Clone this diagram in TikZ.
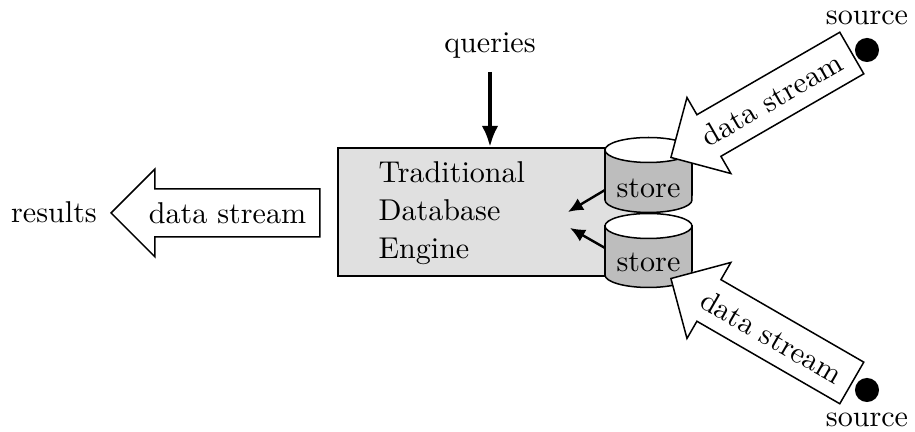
\documentclass[tikz,border=0pt]{standalone}
\usetikzlibrary{shapes.arrows,arrows.meta}
\begin{document}
\begin{tikzpicture}[x=0.3322pt,y=-0.3322pt,
  flow/.style={single arrow, draw, fill=white, line width=0.5pt,
    inner xsep=4.3pt, inner ysep=4.2pt, single arrow head extend=6.6pt,
    shape border rotate=180},
  engine/.style={draw, fill=black!12, line width=0.8pt},
  cylbody/.style={draw, fill=black!26, line width=0.5pt},
  cylend/.style={draw, fill=white, line width=0.5pt},
  feed/.style={-{Latex[length=5pt,width=4.5pt]}, line width=0.8pt},
  query/.style={-{Latex[length=7pt,width=5.5pt]}, line width=1.3pt},
  dot/.style={circle, fill=black, inner sep=0pt, minimum size=8pt},
  lbl/.style={inner sep=0pt, anchor=base}]
\useasboundingbox (0,0) rectangle (915,432);

% database engine box
\draw[engine] (338,148) rectangle (640,276);
\node[inner sep=0pt, anchor=north west, align=left,
  execute at begin node=\setlength{\baselineskip}{12.6pt}]
  (engine) at (378,161) {Traditional\\Database\\Engine};

% two stores, stacked
\path[cylbody] (605,150) -- (605,200)
  arc[start angle=180, end angle=360, x radius=14.45pt, y radius=4.15pt]
  -- (692,150) -- cycle;
\path[cylend] (648.5,150) ellipse[x radius=14.45pt, y radius=4.15pt];
\node[lbl] (store1) at (648.5,198) {store};

\path[cylbody] (605,226) -- (605,275)
  arc[start angle=180, end angle=360, x radius=14.45pt, y radius=4.15pt]
  -- (692,226) -- cycle;
\path[cylend] (648.5,226) ellipse[x radius=14.45pt, y radius=4.15pt];
\node[lbl] (store2) at (648.5,272) {store};

% stores feed the engine
\coordinate (s1out) at (605,190);
\coordinate (s1in) at (568,212);
\coordinate (s2out) at (605,248);
\coordinate (s2in) at (570,228);
\draw[feed] (s1out) -- (s1in);
\draw[feed] (s2out) -- (s2in);

% queries
\node[lbl] (queries) at (490,53) {queries};
\coordinate (qtop) at (490,72);
\coordinate (qbot) at (490,147);
\draw[query] (qtop) -- (qbot);

% outgoing stream
\node[flow, anchor=tip] (out) at (110,213) {data stream};
\node[lbl] (results) at (54,223) {results};

% incoming streams and their sources
\node[flow, anchor=tip, rotate=30] (in1) at (670,158) {data stream};
\node[flow, anchor=tip, rotate=-30] (in2) at (670,278) {data stream};

\node[dot] (src1) at (867,50) {};
\node[lbl] (src1lbl) at (867,25) {source};
\node[dot] (src2) at (867,390) {};
\node[lbl] (src2lbl) at (867,427) {source};
\end{tikzpicture}
\end{document}
